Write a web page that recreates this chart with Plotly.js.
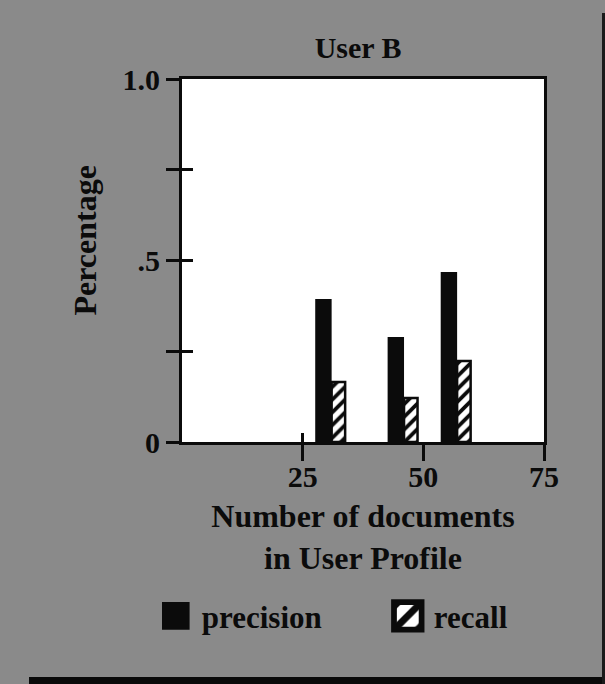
<!DOCTYPE html>
<html>
<head>
<meta charset="utf-8">
<script src="https://cdn.plot.ly/plotly-3.0.1.min.js"></script>
<style>
  html, body { margin: 0; padding: 0; background: #8a8a8a; }
  #wrap { position: relative; width: 605px; height: 684px; overflow: hidden; }
  #chart { position: absolute; left: 0; top: 0; width: 605px; height: 684px; }
  .shadow-b { position: absolute; left: 29px; top: 677px; width: 576px; height: 7px; background: #0a0a0a; }
  .shadow-r { position: absolute; left: 602px; top: 13px; width: 3px; height: 671px; background: #1a1a1a; }
</style>
</head>
<body>
<div id="wrap">
  <div id="chart"></div>
  <div class="shadow-b"></div>
  <div class="shadow-r"></div>
</div>
<script>
// ---- data ----
const profileSizes = [31, 46, 57];            // number of documents in user profile
const precision    = [0.394, 0.289, 0.468];
const recall       = [0.165, 0.121, 0.223];

const xTickVals  = [25, 50, 75];
const xTickText  = ['25', '50', '75'];
const yTickVals  = [0, 0.25, 0.5, 0.75, 1.0];
const yTickText  = ['0', '', '.5', '', '1.0'];
const yInnerTicks = [0.25, 0.5, 0.75];
const xInnerTicks = [25];

const INK = '#0b0b0b';
const FONT = 'Liberation Serif, Times New Roman, serif';
const f = (size) => ({ family: FONT, size: size, color: INK, weight: 'bold' });

const traces = [
  {
    type: 'bar', name: 'precision',
    x: profileSizes, y: precision,
    width: 3.4, offset: -3.4,
    marker: { color: INK, line: { width: 0 } },
    hoverinfo: 'x+y'
  },
  {
    type: 'bar', name: 'recall',
    x: profileSizes, y: recall,
    width: 2.8, offset: 0,
    marker: {
      color: 'white',
      line: { color: INK, width: 2.5 },
      pattern: { shape: '/', fgcolor: INK, bgcolor: 'white', size: 9, solidity: 0.42 }
    },
    hoverinfo: 'x+y'
  },
  { type: 'scatter', x: [], y: [], xaxis: 'x2', yaxis: 'y2', showlegend: false, hoverinfo: 'skip' }
];

const layout = {
  width: 605, height: 684,
  margin: { l: 182, r: 61, t: 79, b: 242 },
  paper_bgcolor: '#8a8a8a',
  plot_bgcolor: 'white',
  font: f(30),
  showlegend: true,
  barmode: 'overlay',
  title: { text: 'User B', font: f(30), x: 0.592, xanchor: 'center', y: 0.931, yanchor: 'middle' },
  xaxis: {
    range: [0, 75], tickmode: 'array', tickvals: xTickVals, ticktext: xTickText,
    ticks: 'outside', ticklen: 16, tickwidth: 3, tickcolor: INK, ticklabelstandoff: -10,
    showline: true, linewidth: 3, linecolor: INK, mirror: true,
    showgrid: false, zeroline: false, tickfont: f(30), fixedrange: true,
    title: { text: 'Number of documents<br>in User Profile', font: f(32), standoff: 13 }
  },
  yaxis: {
    range: [0, 1], tickmode: 'array', tickvals: yTickVals, ticktext: yTickText,
    ticks: 'outside', ticklen: 13, tickwidth: 3, tickcolor: INK,
    showline: true, linewidth: 3, linecolor: INK, mirror: true,
    showgrid: false, zeroline: false, tickfont: f(30), fixedrange: true
  },
  xaxis2: {
    overlaying: 'x', range: [0, 75], tickmode: 'array', tickvals: xInnerTicks,
    ticks: 'inside', ticklen: 9, tickwidth: 3, tickcolor: INK,
    showticklabels: false, showgrid: false, zeroline: false, showline: false, fixedrange: true
  },
  yaxis2: {
    overlaying: 'y', range: [0, 1], tickmode: 'array', tickvals: yInnerTicks,
    ticks: 'inside', ticklen: 11, tickwidth: 3, tickcolor: INK,
    showticklabels: false, showgrid: false, zeroline: false, showline: false, fixedrange: true
  },
  legend: {
    orientation: 'h', x: -0.002, xanchor: 'left', y: -0.48, yanchor: 'middle',
    font: f(31), bgcolor: 'rgba(0,0,0,0)', entrywidth: 187, entrywidthmode: 'pixels',
    itemclick: false, itemdoubleclick: false
  },
  annotations: [
    { text: 'Percentage', textangle: -90, xref: 'paper', yref: 'paper',
      x: -0.269, y: 0.554, xanchor: 'center', yanchor: 'middle', showarrow: false, font: f(32) }
  ]
};

Plotly.newPlot('chart', traces, layout, { displayModeBar: false, staticPlot: true }).then(function (gd) {
  // enlarge the legend swatches to match the reference's big squares
  gd.querySelectorAll('.legend .legendpoints path').forEach(function (p) {
    p.setAttribute('transform', 'translate(14,0) scale(2.3)');
  });
  // the legend is clamped inside the page by Plotly; nudge it to the reference position
  const leg = gd.querySelector('g.legend');
  const firstSwatch = gd.querySelector('.legend .legendpoints path');
  if (leg && firstSwatch) {
    const box = firstSwatch.getBoundingClientRect();
    const dx = 162 - box.left;
    const m = /translate\(\s*([-\d.]+)[ ,]+([-\d.]+)\s*\)/.exec(leg.getAttribute('transform') || '');
    if (m) {
      leg.setAttribute('transform', 'translate(' + (parseFloat(m[1]) + dx) + ',' + m[2] + ')');
    }
  }
});
</script>
</body>
</html>
